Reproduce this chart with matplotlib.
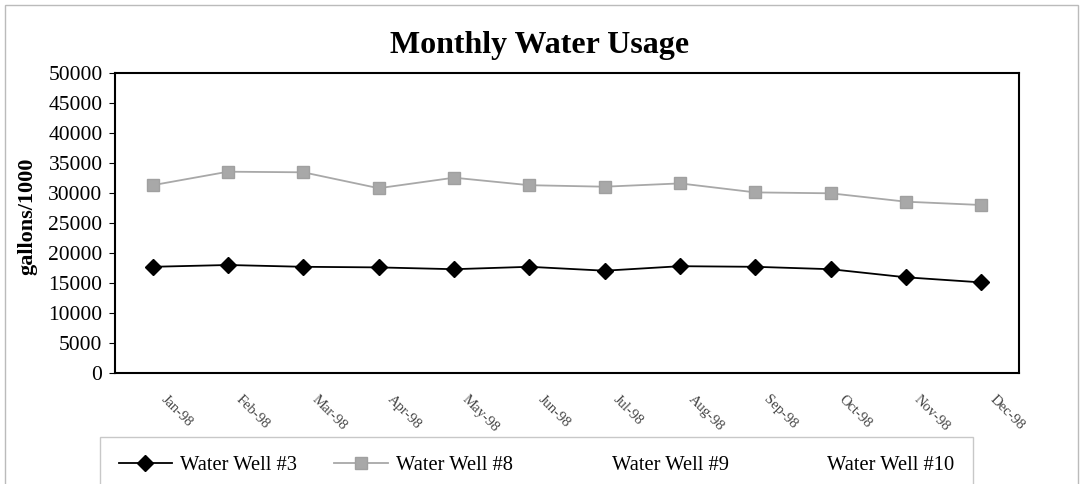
import matplotlib.pyplot as plt
import matplotlib.transforms as mtransforms
import numpy as np
from matplotlib.patches import Rectangle

months = ['Jan-98', 'Feb-98', 'Mar-98', 'Apr-98', 'May-98', 'Jun-98',
          'Jul-98', 'Aug-98', 'Sep-98', 'Oct-98', 'Nov-98', 'Dec-98']
well3 = [17700, 18000, 17700, 17600, 17300, 17700, 17050, 17800, 17700, 17300, 15950, 15100]
well8 = [31300, 33550, 33450, 30800, 32550, 31300, 31050, 31600, 30100, 29950, 28550, 28000]
well9 = [np.nan] * 12
well10 = [np.nan] * 12

plt.rcParams['font.family'] = ['Liberation Serif', 'DejaVu Serif']

fig = plt.figure(figsize=(10.84, 4.84), dpi=100)
ax = fig.add_axes([115/1084, 1 - 373/484, 904/1084, 300/484])

x = np.arange(len(months))
ax.plot(x, well3, color='black', lw=1.3, marker='D', ms=8, label='Water Well #3')
ax.plot(x, well8, color='#a8a8a8', lw=1.3, marker='s', ms=9, mfc='#a8a8a8', mec='#a0a0a0',
        label='Water Well #8')
ax.plot(x, well9, color='white', lw=1, label='Water Well #9')
ax.plot(x, well10, color='white', lw=1, label='Water Well #10')

ax.set_xlim(-0.5, 11.5)
ax.set_ylim(0, 50000)
ax.set_yticks(np.arange(0, 50001, 5000))
ax.tick_params(axis='y', labelsize=15.5, length=4, width=0.8, pad=5)
ax.set_xticks(x)
ax.set_xticklabels(months, rotation=-45, ha='left', va='top', rotation_mode='anchor',
                   fontsize=10.5, color='#444444')
ax.tick_params(axis='x', length=0, pad=14)
shift = mtransforms.ScaledTranslation(15/100, 0, fig.dpi_scale_trans)
for lab in ax.get_xticklabels():
    lab.set_transform(lab.get_transform() + shift)
for s in ax.spines.values():
    s.set_linewidth(1.5)
ax.set_ylabel('gallons/1000', fontsize=16, fontweight='bold')
ax.yaxis.set_label_coords(-0.086, 0.523)

fig.text(540/1084, 1 - 45/484, 'Monthly Water Usage', fontsize=23, fontweight='bold',
         ha='center', va='center')

# outer chart frame
fig.patches.append(Rectangle((5/1084, -0.02), 1073/1084, 1 - 5/484 + 0.02,
                             transform=fig.transFigure, fill=False,
                             edgecolor='#bbbbbb', lw=1))

leg = fig.legend(loc='upper left', bbox_to_anchor=(100/1084, 1 - 437/484), ncol=4,
                 fontsize=14.8, frameon=True, fancybox=False, edgecolor='#bbbbbb',
                 handlelength=2.6, handletextpad=0.4, columnspacing=1.8,
                 borderpad=0.9, borderaxespad=0)
leg.get_frame().set_linewidth(1)

fig.savefig('out.png', dpi=100)
